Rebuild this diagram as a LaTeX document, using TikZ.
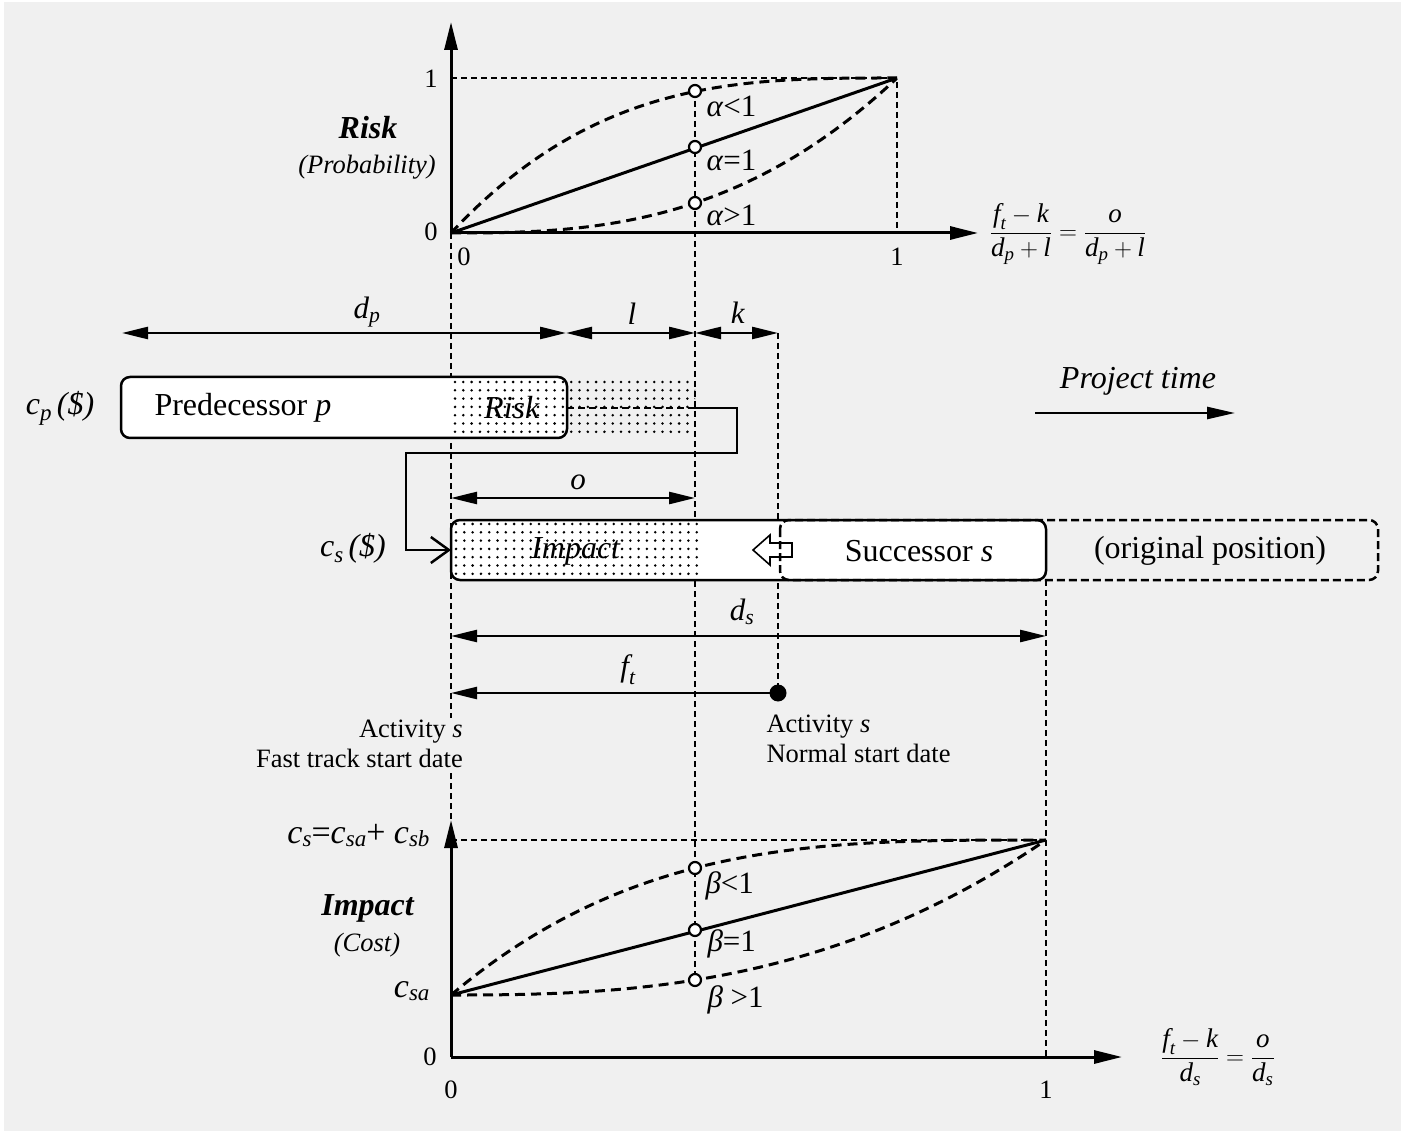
\documentclass[tikz,border=0pt]{standalone}
\usepackage{amsmath}
\usepackage{fontspec}
\setmainfont{Liberation Serif}
\usetikzlibrary{arrows.meta}
\definecolor{bgc}{HTML}{F0F0F0}
\newcommand{\lowsub}[2]{\raisebox{-#2}{\fontsize{23}{23}\selectfont\textit{#1}}}
\tikzset{
  guide/.style={line width=1.2pt, dash pattern=on 6pt off 4pt},
  curve/.style={line width=3pt},
  dcurve/.style={line width=3pt, dash pattern=on 10pt off 6pt},
  axis/.style={line width=3pt, -{Triangle[length=28pt,width=13pt]}},
  dimline/.style={line width=2.5pt, {Triangle[length=26pt,width=12pt]}-{Triangle[length=26pt,width=12pt]}},
  leftdim/.style={line width=2.5pt, {Triangle[length=26pt,width=12pt]}-},
  pt/.style={circle, draw, fill=white, line width=2.2pt, inner sep=0pt, minimum size=12pt},
  dotpt/.style={circle, fill=black, inner sep=0pt, minimum size=17pt},
  box/.style={draw, line width=2.5pt, rounded corners=9pt},
  fa/.style={font=\fontsize{26.5}{30}\selectfont},
  fm/.style={font=\fontsize{27}{31}\selectfont},
  fb/.style={font=\fontsize{31}{33}\selectfont},
  fc/.style={font=\fontsize{31}{36}\selectfont},
  fd/.style={font=\fontsize{32}{37}\selectfont},
  mask/.style={fill=bgc, inner sep=2pt},
}
\begin{document}
\begin{tikzpicture}[x=1pt,y=-1pt]
\useasboundingbox (0,0) rectangle (1414,1131);
\fill[white] (0,0) rectangle (1414,1131);
\fill[bgc] (4,2) rectangle (1401,1131);

% ---------- named coordinates ----------
\coordinate (O1) at (451,233);
\coordinate (Y1top) at (451,22);
\coordinate (X1end) at (978,233);
\coordinate (P11) at (897,78);
\coordinate (O2) at (451,1057);
\coordinate (Y2top) at (451,820);
\coordinate (X2end) at (1122,1057);
\coordinate (C2start) at (451,995);
\coordinate (P21) at (1046,840);

% ---------- guide lines ----------
\draw[guide] (451,78) -- (P11) -- (897,233);
\draw[guide] (O1) -- (451,820);
\draw[guide] (695,91) -- (695,980);
\draw[guide] (778,333) -- (778,693);
\draw[guide] (1046,580) -- (1046,1057);
\draw[guide] (451,840) -- (P21);

% ---------- top chart ----------
\draw[axis] (O1) -- (Y1top);
\draw[axis] (O1) -- (X1end);
\draw[curve] (O1) -- (P11);
\draw[dcurve] (O1) -- plot[domain=0:0.995,samples=80] ({451+446*\x},{233-155*(1-(1-\x)^3.08)}) -- (P11);
\draw[dcurve] (O1) -- plot[domain=0.002:1,samples=80] ({451+446*\x},{233-155*(\x^2.72)});
\node[pt] (a1) at (695,91) {};
\node[pt] (a2) at (695,147) {};
\node[pt] (a3) at (695,203) {};
\node[fb, anchor=west] at (703,106) {\textit{α}<1};
\node[fb, anchor=west] at (703,160) {\textit{α}=1};
\node[fb, anchor=west] at (703,215) {\textit{α}>1};
\node[fd] at (368,128) {\textbf{\textit{Risk}}};
\node[fa] at (367,167) {\textit{(Probability)}};
\node[fa] at (431,79) {1};
\node[fa] at (431,232) {0};
\node[fa] at (464,257) {0};
\node[fa] at (897,257) {1};
\node[fm] at (1068,234) {$\dfrac{\textit{f}_{\textit{t}}-\textit{k}}{\textit{d}_{\textit{p}}+\textit{l}}=\dfrac{\textit{o}}{\textit{d}_{\textit{p}}+\textit{l}}$};

% ---------- dimension arrows ----------
\coordinate (dpL) at (122,333);
\coordinate (dpR) at (566,333);
\coordinate (lR) at (695,333);
\coordinate (kR) at (778,333);
\draw[dimline] (dpL) -- (dpR);
\draw[dimline] (dpR) -- (lR);
\draw[dimline] (lR) -- (kR);
\node[fc] at (367,312) {$\textit{d}_{\textit{p}}$};
\node[fc] at (632,314) {\textit{l}};
\node[fc] at (738,313) {\textit{k}};

% ---------- predecessor ----------
\fill[white, rounded corners=9pt] (121,377) rectangle (567,438);
\begin{scope}
\clip (451,377) rectangle (695,438);
\clip[rounded corners=9pt] (121,377) rectangle (567,438) (567,378) rectangle (695,437);
\foreach \i in {0,...,29} \foreach \j in {0,...,7}
  \fill ({455+8.3*\i},{382+8.3*\j}) circle (1.4pt);
\end{scope}
\draw[box] (121,377) rectangle (567,438);
\coordinate (predR) at (567,408);
\node[fd, anchor=west] (pred) at (151,408) {Predecessor \textit{p}};
\node[fd] (risk) at (512,408) {\textit{Risk}};
\node[fd] at (60,408) {\textit{c}\lowsub{p}{6pt}\,\textit{(\$)}};
\coordinate (rA) at (695,408);
\coordinate (rB) at (737,408);
\coordinate (rC) at (737,453);
\coordinate (rD) at (406,453);
\coordinate (rE) at (406,550);
\coordinate (succL) at (451,550);
\draw[line width=2.5pt, dash pattern=on 7pt off 4pt] (predR) -- (rA);
\draw[line width=2.5pt, -{Straight Barb[length=18pt,width=26pt,line width=2.5pt]}] (rA) -- (rB) -- (rC) -- (rD) -- (rE) -- (succL);
\node[fd] at (353,548) {\textit{c}\lowsub{s}{6pt}\,\textit{(\$)}};

% ---------- o dimension ----------
\coordinate (oL) at (451,498);
\coordinate (oR) at (695,498);
\draw[dimline] (oL) -- (oR);
\node[fc] at (578,482) {\textit{o}};

% ---------- successor ----------
\fill[white, rounded corners=9pt] (451,520) rectangle (1046,580);
\begin{scope}
\clip[rounded corners=9pt] (451,520) rectangle (1046,580);
\clip (451,520) rectangle (698,580);
\foreach \i in {0,...,29} \foreach \j in {0,...,7}
  \fill ({456+8.3*\i},{524+8.3*\j}) circle (1.4pt);
\end{scope}
\node[fd] (impact) at (576,551) {\textit{Impact}};
\draw[line width=1.6pt, fill=white] (753,550) -- (770,535) -- (770,543) -- (792,543) -- (792,557) -- (770,557) -- (770,565) -- cycle;
\draw[line width=2.5pt, dash pattern=on 8pt off 4pt, rounded corners=9pt] (780,520) rectangle (1378,580);
\draw[box] (451,520) rectangle (1046,580);
\node[fd] (succ) at (919,551) {Successor \textit{s}};
\node[fd] (orig) at (1210,551) {(original position)};

% ---------- project time ----------
\node[fd] (pt) at (1138,381) {\textit{Project time}};
\coordinate (ptL) at (1035,413);
\coordinate (ptR) at (1235,413);
\draw[line width=2.5pt, -{Triangle[length=28pt,width=12pt]}] (ptL) -- (ptR);

% ---------- d_s and f_t ----------
\coordinate (dsL) at (451,636);
\coordinate (dsR) at (1046,636);
\draw[dimline] (dsL) -- (dsR);
\node[fc] at (742,612) {$\textit{d}_{\textit{s}}$};
\node[dotpt] (nsd) at (778,693) {};
\coordinate (ftL) at (451,693);
\draw[leftdim] (ftL) -- (nsd.center);
\node[fc] at (628,670) {$\textit{f}_{\textit{t}}$};
\node[fa, mask, align=right, anchor=north east] at (465,718) {Activity \textit{s}\\Fast track start date};
\node[fa, align=left, anchor=north west] at (763,711) {Activity \textit{s}\\Normal start date};

% ---------- bottom chart ----------
\draw[axis] (O2) -- (Y2top);
\draw[axis] (O2) -- (X2end);
\draw[curve] (C2start) -- (P21);
\draw[dcurve] (C2start) -- plot[domain=0:0.995,samples=80] ({451+595*\x},{995-155*(1-(1-\x)^3.24)}) -- (P21);
\draw[dcurve] (C2start) -- plot[domain=0.002:1,samples=80] ({451+595*\x},{995-155*(\x^2.62)});
\node[pt] (b1) at (695,868) {};
\node[pt] (b2) at (695,930) {};
\node[pt] (b3) at (695,980) {};
\node[fb, anchor=west] at (702,886) {\textit{β}<1};
\node[fb, anchor=west] at (704,944) {\textit{β}=1};
\node[fb, anchor=west] at (704,1000) {\textit{β} >1};
\node[fd] at (368,908) {\textbf{\textit{Impact}}};
\node[fa] at (367,945) {\textit{(Cost)}};
\node[font=\fontsize{34}{36}\selectfont, anchor=east] at (433,836) {\textit{c}\lowsub{s}{3pt}=\textit{c}\lowsub{sa}{3pt}+ \textit{c}\lowsub{sb}{3pt}};
\node[font=\fontsize{34}{36}\selectfont, anchor=east] at (433,991) {\textit{c}\lowsub{sa}{3pt}};
\node[fa] at (430,1057) {0};
\node[fa] at (451,1090) {0};
\node[fa] at (1046,1090) {1};
\node[fm] at (1218,1057) {$\dfrac{\textit{f}_{\textit{t}}-\textit{k}}{\textit{d}_{\textit{s}}}=\dfrac{\textit{o}}{\textit{d}_{\textit{s}}}$};
\end{tikzpicture}
\end{document}
